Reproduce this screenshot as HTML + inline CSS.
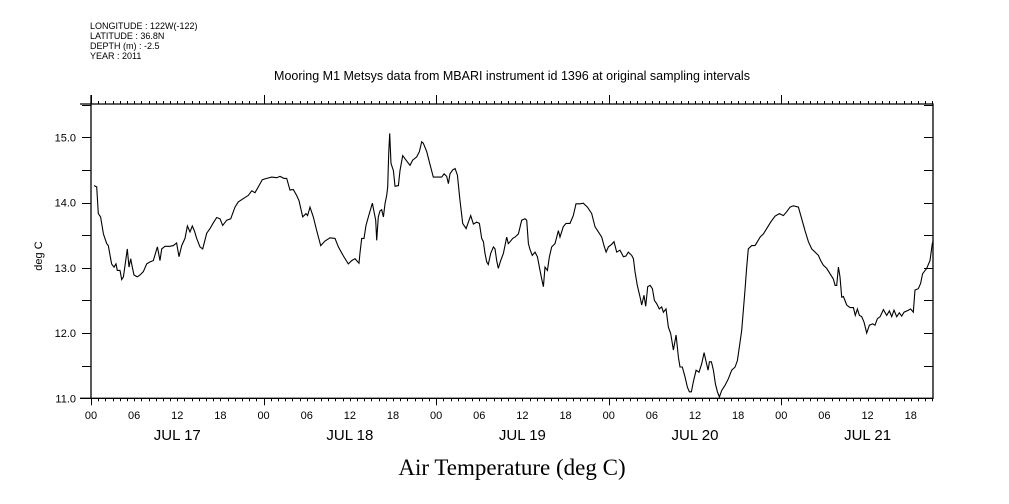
<!DOCTYPE html>
<html><head><meta charset="utf-8">
<style>
html,body{margin:0;padding:0;background:#fff;}
svg{display:block;font-family:"Liberation Sans",sans-serif;}
</style></head>
<body>
<svg id="chart" width="1009" height="504" viewBox="0 0 1009 504" xmlns="http://www.w3.org/2000/svg">
  <g font-size="9" fill="#000">
    <text x="90" y="29">LONGITUDE : 122W(-122)</text>
    <text x="90" y="39">LATITUDE : 36.8N</text>
    <text x="90" y="49">DEPTH (m) : -2.5</text>
    <text x="90" y="59">YEAR : 2011</text>
  </g>
  <text x="512" y="80" text-anchor="middle" font-size="12.5">Mooring M1 Metsys data from MBARI instrument id 1396 at original sampling intervals</text>
  <text x="42" y="256" text-anchor="middle" font-size="11" transform="rotate(-90 42 256)">deg C</text>
  <text x="512" y="475" text-anchor="middle" font-size="23" font-family="Liberation Serif, serif">Air Temperature (deg C)</text>
  <g id="axes"></g>
  <g id="series"></g>
</svg>
<script>
const hours = [0.42,0.79,1.02,1.34,1.72,2.18,2.41,2.87,3.20,3.48,3.66,4.03,4.27,4.50,4.82,5.05,5.29,5.52,5.75,5.98,6.44,6.82,7.28,7.74,8.21,8.67,9.23,9.60,9.83,10.29,10.99,11.45,11.91,12.24,12.61,13.07,13.40,13.77,14.09,14.37,14.70,15.16,15.53,16.09,16.55,17.01,17.48,17.94,18.31,18.87,19.43,20.03,20.49,21.19,21.88,22.35,22.81,23.27,23.83,24.43,25.13,25.82,26.29,26.84,27.21,27.68,28.14,28.60,28.93,29.44,29.90,30.13,30.46,30.92,31.39,31.94,32.55,33.24,33.94,34.40,35.10,35.79,36.26,36.72,37.27,37.41,37.65,37.97,38.25,38.71,39.13,39.36,39.59,39.73,39.96,40.19,40.43,40.66,40.89,41.12,41.26,41.40,41.54,41.72,42.05,42.28,42.75,42.98,43.35,43.81,44.37,44.74,45.29,45.67,45.99,46.22,46.69,47.06,47.61,48.31,48.77,49.10,49.47,49.70,49.93,50.30,50.63,50.95,51.32,51.69,52.16,52.48,52.81,53.18,53.64,54.01,54.33,54.57,54.80,55.03,55.26,55.59,55.96,56.19,56.42,56.65,56.98,57.35,57.81,58.04,58.28,58.65,58.97,59.44,59.90,60.36,60.59,60.83,61.06,61.38,61.75,62.08,62.45,62.68,62.91,63.14,63.47,63.75,64.07,64.53,65.00,65.23,65.69,66.06,66.62,67.08,67.45,68.01,68.47,69.03,69.63,70.10,70.56,71.02,71.35,71.63,71.95,72.42,72.74,73.11,73.57,74.04,74.41,74.73,75.20,75.43,75.66,75.98,76.36,76.59,76.91,77.14,77.42,77.75,78.07,78.35,78.67,79.04,79.37,79.60,79.97,80.30,80.62,81.00,81.37,81.69,81.92,82.24,82.61,82.94,83.22,83.50,83.77,84.15,84.56,84.93,85.26,85.54,85.82,86.00,86.28,86.56,86.84,87.12,87.39,87.72,88.19,88.65,89.11,89.58,89.90,90.18,90.50,90.96,91.19,91.42,91.89,92.35,92.68,93.05,93.51,93.97,94.53,95.13,95.74,96.29,96.75,97.22,97.68,98.38,98.84,99.30,99.77,100.23,100.70,101.16,101.48,101.85,102.32,102.78,103.24,103.48,103.71,103.94,104.17,104.40,104.64,105.10,105.56,106.03,106.30,106.58,106.86,107.19,107.51,107.88,108.25,108.72,109.04,109.37,109.74,110.20,110.66,111.03,111.36,111.68,112.05,112.42,112.75,113.07,113.67,113.99,114.36,114.60,115.06,115.38,115.66,116.22,116.68,117.00,117.14];
const temps = [14.26,14.24,13.83,13.78,13.52,13.37,13.34,13.06,13.01,13.06,12.96,12.96,12.82,12.86,13.11,13.29,13.01,13.14,13.01,12.89,12.86,12.89,12.94,13.06,13.09,13.11,13.32,13.11,13.29,13.33,13.33,13.34,13.38,13.17,13.34,13.45,13.64,13.55,13.64,13.57,13.45,13.32,13.29,13.53,13.60,13.69,13.77,13.75,13.65,13.73,13.75,13.93,14.01,14.06,14.11,14.18,14.15,14.24,14.35,14.37,14.39,14.38,14.40,14.37,14.37,14.19,14.20,14.11,14.03,13.78,13.83,13.80,13.93,13.78,13.57,13.34,13.41,13.46,13.45,13.32,13.18,13.06,13.11,13.14,13.07,13.23,13.45,13.45,13.65,13.83,13.99,13.86,13.73,13.42,13.78,13.87,13.89,13.78,13.98,14.11,14.24,14.75,15.06,14.60,14.49,14.25,14.26,14.49,14.72,14.65,14.57,14.65,14.70,14.78,14.93,14.91,14.78,14.62,14.39,14.39,14.39,14.44,14.40,14.29,14.44,14.50,14.52,14.42,14.03,13.68,13.60,13.70,13.80,13.67,13.70,13.68,13.45,13.40,13.22,13.09,13.05,13.22,13.32,13.29,13.11,12.99,13.11,13.22,13.47,13.37,13.40,13.45,13.47,13.52,13.73,13.75,13.73,13.37,13.28,13.19,13.24,13.17,12.96,12.83,12.71,13.01,12.96,13.17,13.32,13.37,13.57,13.47,13.63,13.68,13.68,13.80,13.98,13.98,13.99,13.93,13.83,13.63,13.55,13.47,13.34,13.24,13.32,13.36,13.40,13.24,13.27,13.17,13.18,13.24,13.19,13.14,12.94,12.73,12.55,12.43,12.58,12.41,12.71,12.73,12.68,12.50,12.45,12.37,12.40,12.32,12.37,12.09,11.99,11.74,11.97,11.63,11.48,11.48,11.33,11.17,11.10,11.10,11.25,11.43,11.40,11.53,11.70,11.56,11.43,11.56,11.56,11.43,11.22,11.10,11.02,11.12,11.20,11.30,11.43,11.48,11.58,11.79,12.04,12.66,13.01,13.29,13.34,13.34,13.40,13.47,13.52,13.60,13.70,13.79,13.83,13.80,13.86,13.93,13.95,13.93,13.75,13.57,13.40,13.29,13.24,13.19,13.11,13.04,12.99,12.91,12.83,12.73,12.73,13.01,12.86,12.55,12.56,12.43,12.39,12.39,12.27,12.37,12.27,12.25,12.17,12.00,12.12,12.14,12.12,12.22,12.25,12.36,12.27,12.34,12.25,12.35,12.25,12.31,12.26,12.32,12.35,12.37,12.32,12.66,12.68,12.76,12.91,12.99,13.11,13.37,13.42];
const yTickLabels = ["11.0","12.0","13.0","14.0","15.0"];
const yTickValues = [11,12,13,14,15];
const hourLabels = ["00","06","12","18"];
const dayLabels = ["JUL 17","JUL 18","JUL 19","JUL 20","JUL 21"];

const X0=91, X1=933, Y0=398.3, Y1=104;
const HMAX=117.1, TMIN=11, TMAX=15.51;
const xs = h => X0 + (h/HMAX)*(X1-X0);
const ys = t => Y0 - (t-TMIN)/(TMAX-TMIN)*(Y0-Y1);
const NS="http://www.w3.org/2000/svg";
const axes=document.getElementById('axes');
function mk(tag, attrs, parent){const e=document.createElementNS(NS,tag);for(const k in attrs)e.setAttribute(k,attrs[k]);parent.appendChild(e);return e;}

// frame
let f=mk('path',{d:`M${X0},95 V${Y0} M80,${Y0} H${X1} V${Y1} H80`,stroke:'#000','stroke-width':1.3,fill:'none'},axes);



// x ticks hourly
let d='';
for(let h=0;h<=HMAX;h++){
  const x=Math.round(xs(h))+0.5;
  const major=h%24===0;
  d+=`M${x},${Y0} V${Y0+(major?7:3)} M${x},${Y1} V${Y1-(major?9:3)} `;
}
let xt=mk('path',{d:d,stroke:'#000','stroke-width':1,fill:'none'},axes);



for(let h=0;h<=HMAX;h+=6){
  const t=mk('text',{x:xs(h),y:419,'text-anchor':'middle','font-size':11},axes);
  t.textContent=hourLabels[(h/6)%4];
  
  
}
dayLabels.forEach((lab,i)=>{
  const t=mk('text',{x:xs(i*24+12),y:440,'text-anchor':'middle','font-size':15},axes);
  t.textContent=lab;
  
  
});

// y ticks every 0.5
let yd='';
for(let v=11;v<=TMAX;v+=0.5){
  const y=Math.round(ys(v))+0.5;
  yd+=`M${X0-9},${y} H${X0} M${X1},${y} H${X1-9} `;
}
let yt=mk('path',{d:yd,stroke:'#000','stroke-width':1,fill:'none'},axes);


yTickValues.forEach((v,i)=>{
  const t=mk('text',{x:76,y:ys(v)+4,'text-anchor':'end','font-size':11},axes);
  t.textContent=yTickLabels[i];
  
  
});

// series
const pts=hours.map((h,i)=>xs(h).toFixed(1)+','+ys(temps[i]).toFixed(1)).join(' ');
const line=mk('polyline',{points:pts,fill:'none',stroke:'#000','stroke-width':1.1},document.getElementById('series'));


</script>
</body></html>
